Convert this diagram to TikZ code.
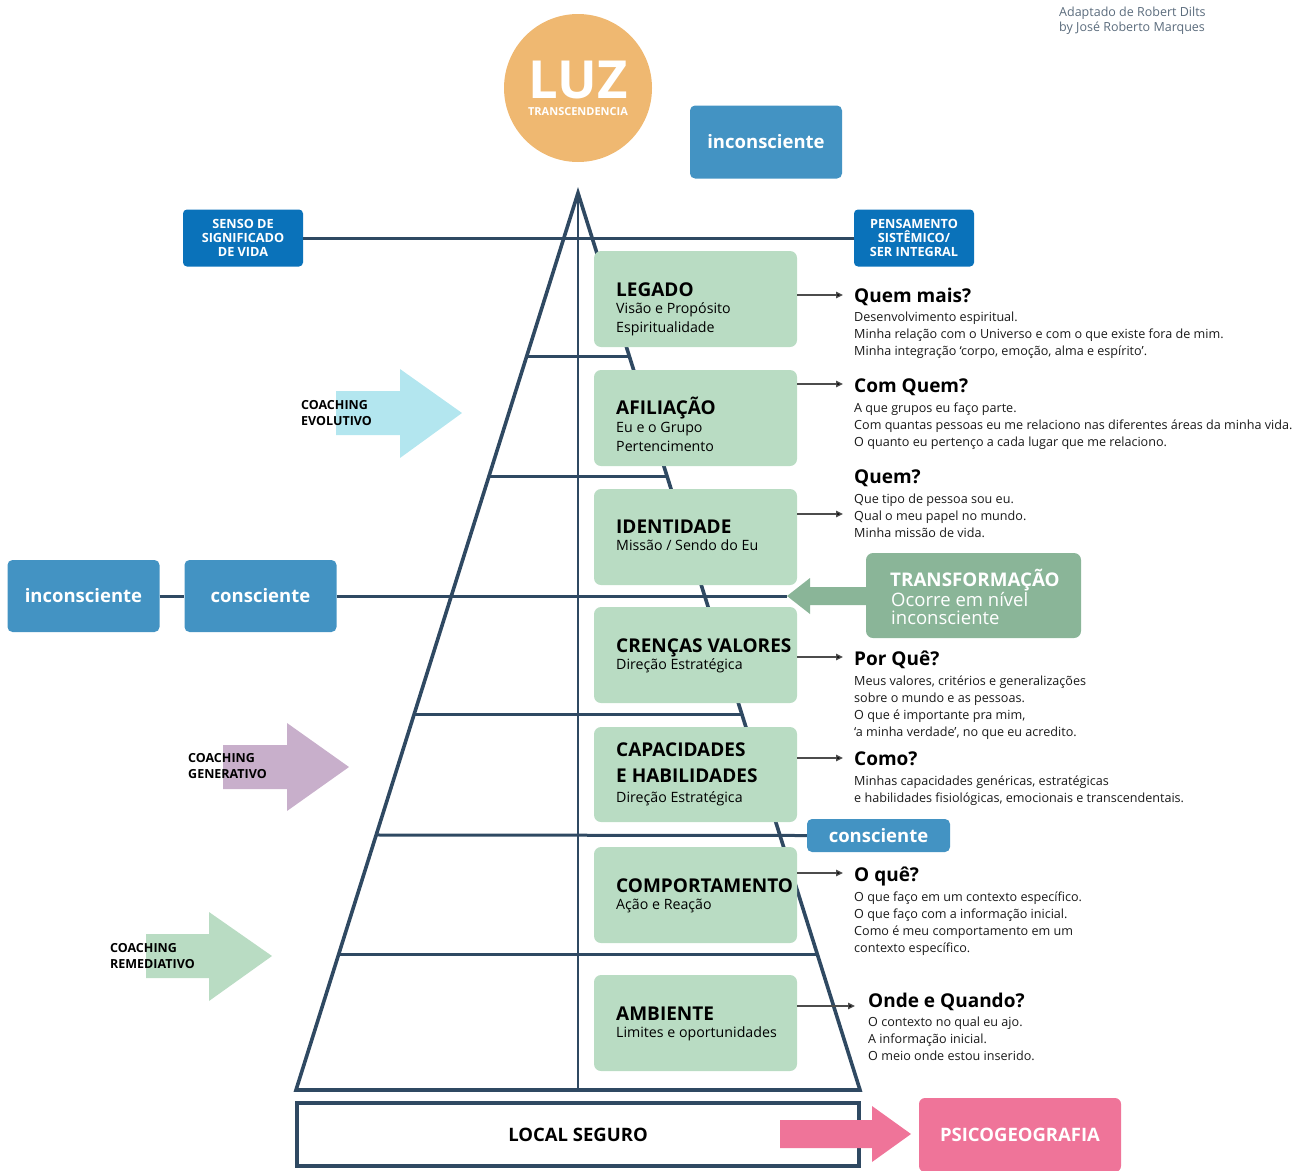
\documentclass[tikz,border=0pt]{standalone}
\usepackage{fontspec}
\setmainfont{Open Sans}
\usetikzlibrary{arrows.meta,calc}
\definecolor{navy}{RGB}{47,73,98}
\definecolor{gboxc}{RGB}{185,220,195}
\definecolor{bluec}{RGB}{67,147,195}
\definecolor{dbluec}{RGB}{10,114,186}
\definecolor{orangec}{RGB}{239,184,113}
\definecolor{transc}{RGB}{138,181,152}
\definecolor{cyanc}{RGB}{179,230,239}
\definecolor{purplec}{RGB}{200,175,203}
\definecolor{pinkc}{RGB}{239,116,153}
\definecolor{grayt}{RGB}{90,107,124}
\newcommand\bodylines[4]{%
  \foreach \t [count=\i from 0] in {#4}
    \node[body] (#1-\i) at (#2, #3+17*\i) {\t};}
\begin{document}
\begin{tikzpicture}[x=1pt,y=-1pt,
  body/.style={anchor=base west, inner sep=0pt, font=\fontsize{12.6}{15}\selectfont, text=black!90},
  qhead/.style={anchor=base west, inner sep=0pt, font=\bfseries\fontsize{19}{22}\selectfont},
  gtitle/.style={anchor=base west, inner sep=0pt, font=\bfseries\fontsize{19}{22}\selectfont},
  gsub/.style={anchor=base west, inner sep=0pt, font=\fontsize{14.2}{17}\selectfont},
  gbox/.style={fill=gboxc, rounded corners=7pt, minimum width=203pt, minimum height=96pt, inner sep=0pt},
  bluebox/.style={fill=bluec, rounded corners=5pt, text=white, font=\bfseries\fontsize{18.5}{22}\selectfont, minimum width=152pt, minimum height=72pt, inner sep=0pt},
  dbluebox/.style={fill=dbluec, rounded corners=4pt, text=white, align=center, font=\bfseries\fontsize{12.7}{14}\selectfont, minimum width=120pt, minimum height=57pt, inner sep=0pt},
  pyr/.style={draw=navy, line width=3.6pt, line join=miter},
  lvl/.style={draw=navy, line width=3pt},
  qarr/.style={draw=black!70, line width=1.3pt, -{Triangle[length=7pt,width=6.5pt,fill=black]}},
  coach/.style={anchor=base west, inner sep=0pt, font=\bfseries\fontsize{12.5}{14}\selectfont},
]
\useasboundingbox (0,0) rectangle (1305,1170);

% credits
\node[anchor=base west, inner sep=0pt, text=grayt, font=\fontsize{12.5}{15}\selectfont] (cred1) at (1059,16.5) {Adaptado de Robert Dilts};
\node[anchor=base west, inner sep=0pt, text=grayt, font=\fontsize{12.5}{15}\selectfont] (cred2) at (1059,31.5) {by José Roberto Marques};

% LUZ
\node[circle, fill=orangec, minimum size=148pt, inner sep=0pt] (luz) at (578,88) {};
\node[anchor=base, inner sep=0pt, text=white, font=\bfseries\fontsize{52.5}{55}\selectfont] (luzt) at (578,98.5) {LUZ};
\node[anchor=base, inner sep=0pt, text=white, font=\bfseries\fontsize{11}{13}\selectfont] (transc) at (578,115) {TRANSCENDENCIA};

\node[bluebox, minimum width=152pt, minimum height=73pt] (inctop) at (766,142) {inconsciente};

% pyramid
\coordinate (apex) at (578,193);
\coordinate (bl) at (296,1090);
\coordinate (br) at (860,1090);
\coordinate (bm) at (578,1090);
\draw[pyr] (apex) -- (bl) -- (br) -- cycle;
\draw[draw=navy, line width=2.6pt] (apex) -- (bm);
\foreach \f in {0.1828,0.3155,0.5819,0.8484}
  \draw[lvl] ($(apex)!\f!(bl)$) -- ($(apex)!\f!(br)$);

% side boxes and long lines
\node[dbluebox] (senso) at (243,238) {SENSO DE\\SIGNIFICADO\\DE VIDA};
\node[dbluebox] (pens) at (914,238) {PENSAMENTO\\SISTÊMICO/\\SER INTEGRAL};
\draw[lvl] (senso.east) -- (pens.west);

\node[bluebox] (incl) at (83.5,596) {inconsciente};
\node[bluebox] (consl) at (260.5,596) {consciente};
\coordinate (ttip) at (787,596);
\draw[lvl] (incl.east) -- (consl.west);
\draw[lvl] (consl.east) -- (ttip);

\node[bluebox, minimum width=143pt, minimum height=33pt] (consr) at (878.5,835.5) {consciente};
\draw[lvl] ($(apex)!0.7157!(bl)$) -- (consr.west);

% green level boxes
\node[gbox] (legado) at (695.5,299) {};
\node[gbox] (afil) at (695.5,418) {};
\node[gbox] (ident) at (695.5,537) {};
\node[gbox] (crenc) at (695.5,655) {};
\node[gbox, minimum height=95pt] (capac) at (695.5,774.5) {};
\node[gbox] (comport) at (695.5,895) {};
\node[gbox] (amb) at (695.5,1023) {};

\node[gtitle] (legado-t) at (616,296) {LEGADO};
\node[gsub] (legado-s1) at (616,313.5) {Visão e Propósito};
\node[gsub] (legado-s2) at (616,332.5) {Espiritualidade};
\node[gtitle] (afil-t) at (616,414.5) {AFILIAÇÃO};
\node[gsub] (afil-s1) at (616,432) {Eu e o Grupo};
\node[gsub] (afil-s2) at (616,451) {Pertencimento};
\node[gtitle] (ident-t) at (616,533) {IDENTIDADE};
\node[gsub] (ident-s1) at (616,550.5) {Missão / Sendo do Eu};
\node[gtitle] (crenc-t) at (616,652) {CRENÇAS VALORES};
\node[gsub] (crenc-s1) at (616,669.5) {Direção Estratégica};
\node[gtitle] (capac-t1) at (616,756) {CAPACIDADES};
\node[gtitle] (capac-t2) at (616,782) {E HABILIDADES};
\node[gsub] (capac-s1) at (616,802.5) {Direção Estratégica};
\node[gtitle] (comport-t) at (616,892) {COMPORTAMENTO};
\node[gsub] (comport-s1) at (616,909.5) {Ação e Reação};
\node[gtitle] (amb-t) at (616,1020) {AMBIENTE};
\node[gsub] (amb-s1) at (616,1037.5) {Limites e oportunidades};

% transformation
\node[fill=transc, rounded corners=7pt, minimum width=215pt, minimum height=85pt, inner sep=0pt] (transf) at (973.5,595.5) {};
\fill[transc] (867,587) -- (810,587) -- (810,578) -- (ttip) -- (810,614) -- (810,605) -- (867,605) -- cycle;
\node[anchor=base west, inner sep=0pt, text=white, font=\bfseries\fontsize{18.8}{22}\selectfont] (transf-t) at (890,586) {TRANSFORMAÇÃO};
\node[anchor=base west, inner sep=0pt, text=white, font=\fontsize{18.5}{22}\selectfont] (transf-s1) at (891,606.5) {Ocorre em nível};
\node[anchor=base west, inner sep=0pt, text=white, font=\fontsize{18.5}{22}\selectfont] (transf-s2) at (891,624.5) {inconsciente};

% questions
\node[qhead] (q1) at (854,302) {Quem mais?};
\bodylines{q1b}{854}{321}{{Desenvolvimento espiritual.},{Minha relação com o Universo e com o que existe fora de mim.},{Minha integração ‘corpo, emoção, alma e espírito’.}}
\node[qhead] (q2) at (854,392) {Com Quem?};
\bodylines{q2b}{854}{412}{{A que grupos eu faço parte.},{Com quantas pessoas eu me relaciono nas diferentes áreas da minha vida.},{O quanto eu pertenço a cada lugar que me relaciono.}}
\node[qhead] (q3) at (854,483) {Quem?};
\bodylines{q3b}{854}{503}{{Que tipo de pessoa sou eu.},{Qual o meu papel no mundo.},{Minha missão de vida.}}
\node[qhead] (q4) at (854,665.5) {Por Quê?};
\bodylines{q4b}{854}{685}{{Meus valores, critérios e generalizações},{sobre o mundo e as pessoas.},{O que é importante pra mim,},{‘a minha verdade’, no que eu acredito.}}
\node[qhead] (q5) at (854,765) {Como?};
\bodylines{q5b}{854}{785}{{Minhas capacidades genéricas, estratégicas},{e habilidades fisiológicas, emocionais e transcendentais.}}
\node[qhead] (q6) at (854,881) {O quê?};
\bodylines{q6b}{854}{901}{{O que faço em um contexto específico.},{O que faço com a informação inicial.},{Como é meu comportamento em um},{contexto específico.}}
\node[qhead] (q7) at (868,1007) {Onde e Quando?};
\bodylines{q7b}{868}{1026}{{O contexto no qual eu ajo.},{A informação inicial.},{O meio onde estou inserido.}}

\coordinate (a1) at (843,295);
\coordinate (a2) at (843,384);
\coordinate (a3) at (843,514);
\coordinate (a4) at (843,657);
\coordinate (a5) at (843,758);
\coordinate (a6) at (843,873);
\coordinate (a7) at (855,1006);
\draw[qarr] (legado.east |- a1) -- (a1);
\draw[qarr] (afil.east |- a2) -- (a2);
\draw[qarr] (ident.east |- a3) -- (a3);
\draw[qarr] (crenc.east |- a4) -- (a4);
\draw[qarr] (capac.east |- a5) -- (a5);
\draw[qarr] (comport.east |- a6) -- (a6);
\draw[qarr] (amb.east |- a7) -- (a7);

% coaching arrows
\fill[cyanc] (336,391) -- (400,391) -- (400,369) -- (462,413) -- (400,458) -- (400,435) -- (336,435) -- cycle;
\node[coach] (evo1) at (301,409.5) {COACHING};
\node[coach] (evo2) at (301,425.5) {EVOLUTIVO};
\fill[purplec] (223,745) -- (287,745) -- (287,723) -- (349,767) -- (287,811) -- (287,789) -- (223,789) -- cycle;
\node[coach] (gen1) at (188,762.5) {COACHING};
\node[coach] (gen2) at (188,778.5) {GENERATIVO};
\fill[gboxc] (146,934) -- (209,934) -- (209,912) -- (272,956) -- (209,1001) -- (209,978) -- (146,978) -- cycle;
\node[coach] (rem1) at (110,952.5) {COACHING};
\node[coach] (rem2) at (110,968.5) {REMEDIATIVO};

% base
\node[draw=navy, line width=3.4pt, fill=white, minimum width=562pt, minimum height=63pt, inner sep=0pt, font=\bfseries\fontsize{18.5}{22}\selectfont] (local) at (578,1134.5) {LOCAL SEGURO};
\node[fill=pinkc, rounded corners=6pt, minimum width=202pt, minimum height=74pt, inner sep=0pt, text=white, font=\bfseries\fontsize{18.5}{22}\selectfont] (psico) at (1020,1135) {PSICOGEOGRAFIA};
\fill[pinkc] (780,1120) -- (872,1120) -- (872,1106) -- (911,1134) -- (872,1162) -- (872,1148) -- (780,1148) -- cycle;
\end{tikzpicture}
\end{document}
